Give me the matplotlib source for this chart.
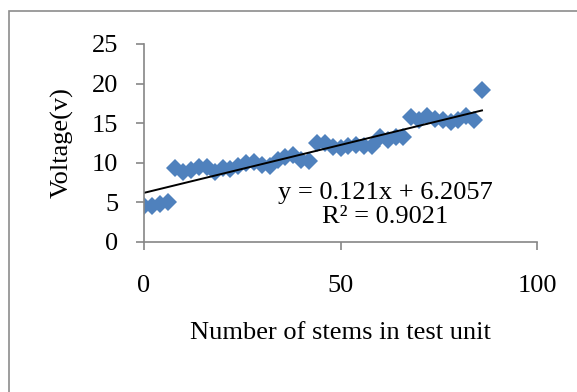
import numpy as np
import matplotlib
matplotlib.use("Agg")
import matplotlib.pyplot as plt
from matplotlib.patches import Rectangle

# valores
stems = [0, 2, 4, 6, 8, 10, 12, 14, 16, 18, 20, 22, 24, 26, 28, 30, 32, 34, 36, 38, 40, 42,
         44, 46, 48, 50, 52, 54, 56, 58, 60, 62, 64, 66, 68, 70, 72, 74, 76, 78, 80, 82, 84, 86]
voltage = [4.5, 4.6, 4.8, 5.0, 9.3, 8.9, 9.1, 9.5, 9.5, 8.8, 9.3, 9.2, 9.6, 10.0, 10.1, 9.7,
           9.6, 10.4, 10.7, 11.0, 10.3, 10.2, 12.5, 12.5, 12.0, 11.9, 12.1, 12.3, 12.1, 12.1,
           13.3, 12.9, 13.2, 13.2, 15.8, 15.4, 15.9, 15.5, 15.4, 15.2, 15.4, 15.9, 15.4, 19.2]
slope = 0.121
intercept = 6.2057
r2 = 0.9021

plt.rcParams['font.family'] = ['Liberation Serif', 'DejaVu Serif']

fig = plt.figure(figsize=(5.77, 3.92), dpi=100)
ax = fig.add_axes([144/577, 1 - 242/392, (537 - 144)/577, (242 - 44)/392])

# moldura cinza do grafico
fig.add_artist(Rectangle((9/577, -0.2), 1.3, 1.2 - 11/392, transform=fig.transFigure,
                         fill=False, edgecolor='#8c8c8c', linewidth=1.2))

ax.plot(stems, voltage, linestyle='none', marker='D', markersize=9.5,
        color='#4f81bd', markeredgewidth=0)

# linha de tendencia
xt = np.array([min(stems), max(stems)])
ax.plot(xt, slope * xt + intercept, color='black', linewidth=1.4)

ax.text(61.3, 4.7, "y = 0.121x + 6.2057\nR² = %.4f" % r2, ha='center', va='center',
        fontsize=19, linespacing=1.15)

ax.set_xlim(0, 100)
ax.set_ylim(0, 25)
ax.set_xticks([0, 50, 100])
ax.set_yticks([0, 5, 10, 15, 20, 25])

for s in ['top', 'right']:
    ax.spines[s].set_visible(False)
for s in ['left', 'bottom']:
    ax.spines[s].set_color('#868686')
    ax.spines[s].set_linewidth(1.2)

ax.tick_params(axis='both', colors='#868686', labelcolor='black', labelsize=19,
               length=5.5, width=1.2, direction='out')
ax.tick_params(axis='y', pad=13)
ax.tick_params(axis='x', pad=18)

ax.set_xlabel("Number of stems in test unit", fontsize=19, labelpad=18)
ax.set_ylabel("Voltage(v)", fontsize=19, labelpad=13)

fig.savefig("out.png", dpi=100)
